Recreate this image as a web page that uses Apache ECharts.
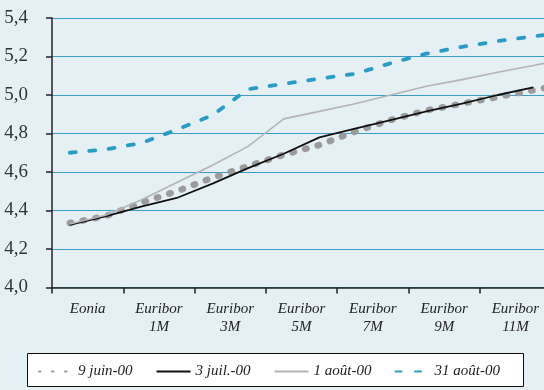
<!DOCTYPE html>
<html>
<head>
<meta charset="utf-8">
<script src="https://cdn.jsdelivr.net/npm/echarts@6/dist/echarts.min.js"></script>
<style>
  html, body { margin: 0; padding: 0; background: #e5f0f5; }
  #chart { width: 544px; height: 390px; }
</style>
</head>
<body>
<div id="chart"></div>
<script>
// Money-market curve: Eonia and Euribor maturities (one point per maturity)
const maturities = ['Eonia', 'Euribor 1S', 'Euribor 1M', 'Euribor 2M', 'Euribor 3M', 'Euribor 4M',
  'Euribor 5M', 'Euribor 6M', 'Euribor 7M', 'Euribor 8M', 'Euribor 9M', 'Euribor 10M',
  'Euribor 11M', 'Euribor 12M', ''];
// Axis labels, one every two maturities
const axisLabels = ['Eonia', 'Euribor 1M', 'Euribor 3M', 'Euribor 5M', 'Euribor 7M', 'Euribor 9M', 'Euribor 11M'];
const yTicks = [4.0, 4.2, 4.4, 4.6, 4.8, 5.0, 5.2, 5.4];

const seriesNames = ['9 juin-00', '3 juil.-00', '1 août-00', '31 août-00'];
const juin9 = [4.335, 4.37, 4.44, 4.50, 4.57, 4.63, 4.69, 4.74, 4.81, 4.87, 4.92, 4.955, 4.99, 5.025, 5.06];
const juil3 = [4.325, 4.37, 4.42, 4.465, 4.54, 4.62, 4.695, 4.78, 4.825, 4.87, 4.915, 4.955, 5.0, 5.04, null];
const aout1 = [4.33, 4.375, 4.455, 4.545, 4.635, 4.733, 4.876, 4.915, 4.955, 5.0, 5.045, 5.08, 5.118, 5.153, 5.19];
const aout31 = [4.70, 4.717, 4.75, 4.82, 4.895, 5.03, 5.058, 5.085, 5.11, 5.165, 5.215, 5.25, 5.28, 5.305, 5.325];

const LEFT = 52, TOP = 18, HEIGHT = 269.5;
const step = 35.65; // width of one maturity slot

const serif = 'Liberation Serif';
const fmt = v => v.toFixed(1).replace('.', ',');

const chart = echarts.init(document.getElementById('chart'), null, { renderer: 'canvas' });
chart.setOption({
  backgroundColor: '#e5f0f5',
  animation: false,
  graphic: [{
    type: 'rect', z: 0,
    shape: { x: 27.5, y: 353.5, width: 496, height: 33 },
    style: { fill: '#ffffff', stroke: '#111', lineWidth: 1 }
  }],
  legend: {
    left: 33, top: 359, z: 5,
    itemWidth: 34, itemHeight: 14, itemGap: 23,
    itemStyle: { opacity: 0 },
    textStyle: { fontFamily: serif, fontStyle: 'italic', fontSize: 15, color: '#222' },
    data: seriesNames
  },
  grid: [
    { left: LEFT, width: maturities.length * step, top: TOP, height: HEIGHT, outerBoundsMode: 'none', containLabel: false },
    { left: LEFT, width: axisLabels.length * 2 * step, top: TOP, height: HEIGHT, outerBoundsMode: 'none', containLabel: false }
  ],
  xAxis: [
    { type: 'category', gridIndex: 0, data: maturities, boundaryGap: true, show: false },
    {
      type: 'category', gridIndex: 1, data: axisLabels, boundaryGap: true,
      axisLine: { lineStyle: { color: '#222', width: 1.5 } },
      axisTick: { show: true, length: 6, interval: 0, lineStyle: { color: '#222', width: 1.5 } },
      axisLabel: {
        interval: 0, margin: 13, lineHeight: 18,
        fontFamily: serif, fontStyle: 'italic', fontSize: 15, color: '#222',
        formatter: s => s.replace(' ', '\n')
      },
      splitLine: { show: false }
    }
  ],
  yAxis: [
    { type: 'value', gridIndex: 0, min: yTicks[0], max: yTicks[yTicks.length - 1], interval: 0.2, show: false },
    {
      type: 'value', gridIndex: 1, min: yTicks[0], max: yTicks[yTicks.length - 1], interval: 0.2,
      axisLine: { show: true, lineStyle: { color: '#222', width: 1.5 } },
      axisTick: { show: true, length: 6, lineStyle: { color: '#222', width: 1.5 } },
      axisLabel: { margin: 24, fontFamily: serif, fontSize: 19, color: '#333', formatter: fmt },
      splitLine: { show: true, lineStyle: { color: '#3a9ec6', width: 1 } }
    }
  ],
  series: [
    {
      name: seriesNames[0], type: 'line', xAxisIndex: 0, yAxisIndex: 0, data: juin9,
      symbol: 'none', z: 2,
      lineStyle: { color: '#9b9b9b', width: 6.5, type: [1.5, 11.5], cap: 'round' },
      itemStyle: { color: '#9b9b9b' }
    },
    {
      name: seriesNames[1], type: 'line', xAxisIndex: 0, yAxisIndex: 0, data: juil3,
      symbol: 'none', z: 3,
      lineStyle: { color: '#111', width: 1.8 },
      itemStyle: { color: '#111' }
    },
    {
      name: seriesNames[2], type: 'line', xAxisIndex: 0, yAxisIndex: 0, data: aout1,
      symbol: 'none', z: 3,
      lineStyle: { color: '#b4b4b4', width: 1.6 },
      itemStyle: { color: '#b4b4b4' }
    },
    {
      name: seriesNames[3], type: 'line', xAxisIndex: 0, yAxisIndex: 0, data: aout31,
      symbol: 'none', z: 3,
      lineStyle: { color: '#2a9bc5', width: 3.8, type: [6, 13.5], cap: 'round' },
      itemStyle: { color: '#2a9bc5' }
    }
  ]
});
</script>
</body>
</html>
